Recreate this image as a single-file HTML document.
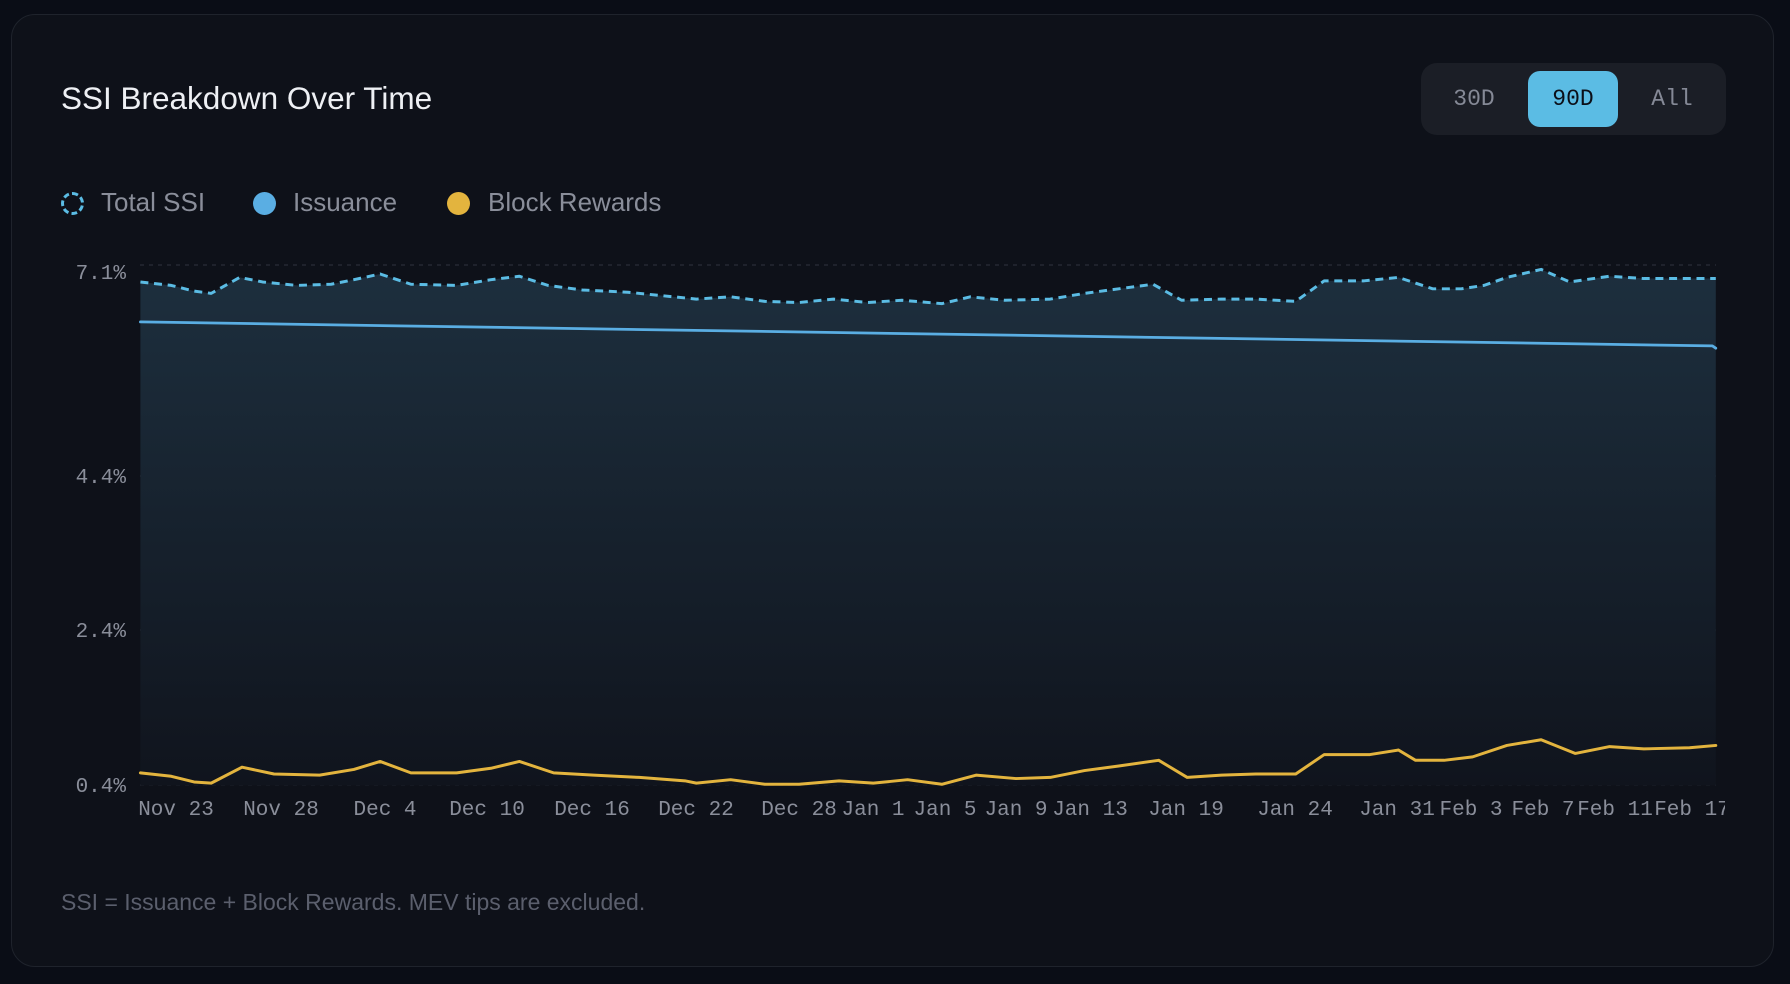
<!DOCTYPE html>
<html><head><meta charset="utf-8"><style>
html,body{margin:0;padding:0;width:1790px;height:984px;background:#0a0d16;overflow:hidden;font-family:"Liberation Sans",sans-serif;}
.card{position:absolute;left:11px;top:14px;width:1763px;height:953px;background:#0e1119;border:1.5px solid #1f232c;border-radius:24px;box-sizing:border-box;}
.title{position:absolute;left:61px;top:80px;font-size:31.5px;color:#eef0f4;white-space:nowrap;}
.leg{position:absolute;top:187px;font-size:26px;color:#8a8e9a;white-space:nowrap;line-height:30px;}
.dot{position:absolute;top:192px;width:23px;height:23px;border-radius:50%;}
.btns{position:absolute;left:1421px;top:63px;width:305px;height:72px;background:#1b1e26;border-radius:16px;}
.b{position:absolute;top:0;height:72px;line-height:72px;width:90px;text-align:center;font-family:"Liberation Mono",monospace;font-size:23px;color:#858996;}
.sel{position:absolute;left:107px;top:8px;width:90px;height:56px;background:#5bbce4;border-radius:12px;}
.foot{position:absolute;left:61px;top:889px;font-size:23px;color:#5b5f6d;white-space:nowrap;}
svg{position:absolute;left:0;top:0;}
</style></head><body>
<div class="card"></div>
<div class="title">SSI Breakdown Over Time</div>
<div class="dot" style="left:61px;border:3px dashed #5bbce4;width:17px;height:17px;"></div>
<div class="leg" style="left:101px">Total SSI</div>
<div class="dot" style="left:253px;background:#5aaee3"></div>
<div class="leg" style="left:293px">Issuance</div>
<div class="dot" style="left:447px;background:#e3b43e"></div>
<div class="leg" style="left:488px">Block Rewards</div>
<div class="btns"><div class="sel"></div>
<div class="b" style="left:8px">30D</div>
<div class="b" style="left:107px;color:#0b0f18">90D</div>
<div class="b" style="left:206px">All</div></div>
<svg width="1790" height="984" viewBox="0 0 1790 984">
<defs><linearGradient id="g" x1="0" y1="0" x2="0" y2="1">
<stop offset="0" stop-color="#1d2f3e"/><stop offset="1" stop-color="#10141d"/></linearGradient>
<clipPath id="c"><rect x="0" y="0" width="1725" height="984"/></clipPath></defs>
<g stroke="#2a2e38" stroke-width="1.2" stroke-dasharray="4 5">
<line x1="140" y1="265" x2="1716" y2="265"/><line x1="140" y1="476" x2="1716" y2="476"/>
<line x1="140" y1="630" x2="1716" y2="630"/><line x1="140" y1="785" x2="1716" y2="785"/></g>
<g font-family="Liberation Mono,monospace" font-size="21" fill="#8a8e9a" text-anchor="end">
<text x="126" y="279">7.1%</text><text x="126" y="483">4.4%</text><text x="126" y="637">2.4%</text><text x="126" y="792">0.4%</text></g>
<g transform="scale(1.14158)" fill="none" stroke-linejoin="round" stroke-linecap="round">
<path d="M123,247 L150,250 170,255 185,257 210,243 230,247 260,250 290,249 310,245 333,240 360,249 400,250 430,245 455,242 480,250 510,254 550,256 580,259 610,262 640,260 670,264 700,265 730,262 760,265 790,263 825,266 850,260 880,263 920,262 950,257 980,253 1010,249 1035,263 1070,262 1100,262 1135,264 1160,246 1195,246 1225,243 1255,253 1280,253 1300,250 1320,243 1350,236 1375,247 1410,242 1440,244 1503,244 L1503,688 L123,688 Z" fill="url(#g)" stroke="none"/>
<path d="M123,247 L150,250 170,255 185,257 210,243 230,247 260,250 290,249 310,245 333,240 360,249 400,250 430,245 455,242 480,250 510,254 550,256 580,259 610,262 640,260 670,264 700,265 730,262 760,265 790,263 825,266 850,260 880,263 920,262 950,257 980,253 1010,249 1035,263 1070,262 1100,262 1135,264 1160,246 1195,246 1225,243 1255,253 1280,253 1300,250 1320,243 1350,236 1375,247 1410,242 1440,244 1503,244" stroke="#5bbce4" stroke-width="2.6" stroke-dasharray="7 5" stroke-linecap="butt"/>
<path d="M123,282 L1500,303 1503,305" stroke="#5aaee3" stroke-width="2.4"/>
<path d="M123,677 L150,680 170,685 185,686 212,672 240,678 280,679 310,674 333,667 360,677 400,677 430,673 455,667 485,677 520,679 560,681 600,684 610,686 640,683 670,687 700,687 735,684 765,686 795,683 825,687 855,679 890,682 920,681 950,675 980,671 1015,666 1040,681 1070,679 1100,678 1135,678 1160,661 1200,661 1225,657 1240,666 1265,666 1290,663 1320,653 1350,648 1380,660 1410,654 1440,656 1480,655 1503,653" stroke="#e3b43e" stroke-width="2.6"/>
</g>
<g font-family="Liberation Mono,monospace" font-size="21" fill="#8a8e9a" text-anchor="middle" clip-path="url(#c)">
<text x="176" y="815">Nov 23</text><text x="281" y="815">Nov 28</text><text x="385" y="815">Dec 4</text>
<text x="487" y="815">Dec 10</text><text x="592" y="815">Dec 16</text><text x="696" y="815">Dec 22</text>
<text x="799" y="815">Dec 28</text><text x="873" y="815">Jan 1</text><text x="945" y="815">Jan 5</text>
<text x="1016" y="815">Jan 9</text><text x="1090" y="815">Jan 13</text><text x="1186" y="815">Jan 19</text>
<text x="1295" y="815">Jan 24</text><text x="1397" y="815">Jan 31</text><text x="1471" y="815">Feb 3</text>
<text x="1543" y="815">Feb 7</text><text x="1615" y="815">Feb 11</text><text x="1692" y="815">Feb 17</text></g>
</svg>
<div class="foot">SSI = Issuance + Block Rewards. MEV tips are excluded.</div>
</body></html>
